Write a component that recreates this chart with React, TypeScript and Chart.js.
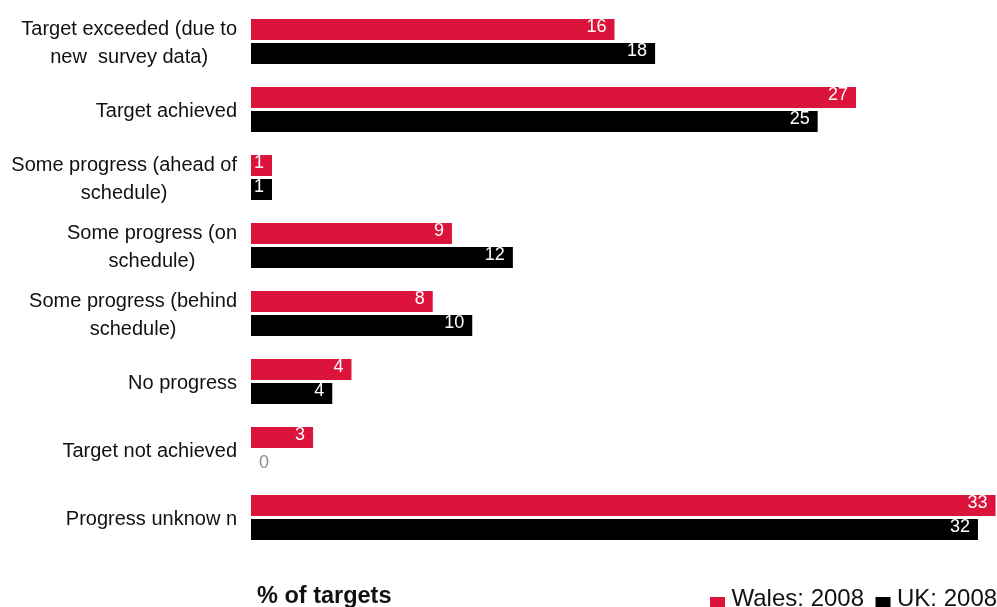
import React, { useEffect, useRef } from "react";
import { Chart, registerables } from "chart.js";

Chart.register(...registerables);

const FONT = "'Liberation Sans', Arial, Helvetica, sans-serif";

const categories: string[][] = [
  ["Target exceeded (due to", "new  survey data)"],
  ["Target achieved"],
  ["Some progress (ahead of", "schedule)"],
  ["Some progress (on", "schedule)"],
  ["Some progress (behind", "schedule)"],
  ["No progress"],
  ["Target not achieved"],
  ["Progress unknow n"],
];

const seriesNames = ["Wales: 2008", "UK: 2008"];
const walesValues = [16.1, 26.8, 0.93, 8.9, 8.05, 4.45, 2.75, 32.98];
const ukValues = [17.9, 25.1, 0.93, 11.6, 9.8, 3.6, 0, 32.2];
const seriesColors = ["#DC143C", "#000000"];
const axisTitle = "% of targets";
const xMin = 0;
const xMax = 33;

const labelsPlugin = {
  id: "customLabels",
  afterDatasetsDraw(chart: any) {
    const ctx = chart.ctx;
    const yScale = chart.scales.y;
    const area = chart.chartArea;
    ctx.save();

    // Category labels (block right-aligned, lines centered within block)
    ctx.font = `20px ${FONT}`;
    ctx.fillStyle = "#111111";
    ctx.textBaseline = "alphabetic";
    ctx.textAlign = "center";
    const blockRight = area.left - 14;
    const lineH = 28;
    categories.forEach((lines, i) => {
      const cy = yScale.getPixelForValue(i);
      const maxW = Math.max(...lines.map((l) => ctx.measureText(l).width));
      const cx = blockRight - maxW / 2;
      lines.forEach((line, k) => {
        const by = cy - (lineH * (lines.length - 1)) / 2 + lineH * k + 7;
        ctx.fillText(line, cx, by);
      });
    });

    // Data labels
    ctx.font = `18px ${FONT}`;
    chart.data.datasets.forEach((ds: any, di: number) => {
      const meta = chart.getDatasetMeta(di);
      meta.data.forEach((bar: any, i: number) => {
        const v = ds.data[i];
        const txt = String(Math.round(v));
        const top = bar.y - bar.height / 2;
        if (v === 0) {
          ctx.fillStyle = "#8c8c8c";
          ctx.textAlign = "left";
          ctx.fillText(txt, bar.base + 8, bar.y + 6.5);
        } else {
          ctx.fillStyle = "#ffffff";
          ctx.textAlign = "right";
          ctx.fillText(txt, bar.x - 8, top + 13.3);
        }
      });
    });

    // Axis title
    ctx.font = `bold 23.5px ${FONT}`;
    ctx.fillStyle = "#111111";
    ctx.textAlign = "left";
    ctx.fillText(axisTitle, area.left + 6, 602.5);

    // Legend
    ctx.font = `24px ${FONT}`;
    let x = 710;
    chart.data.datasets.forEach((ds: any) => {
      ctx.fillStyle = ds.backgroundColor;
      ctx.fillRect(x, 597, 15, 14);
      x += 15 + 6.5;
      ctx.fillStyle = "#111111";
      ctx.textAlign = "left";
      ctx.fillText(ds.label, x, 606);
      x += ctx.measureText(ds.label).width + 11.5;
    });

    ctx.restore();
  },
};

export default function App() {
  const ref = useRef<HTMLCanvasElement | null>(null);

  useEffect(() => {
    if (!ref.current) return;
    const chart = new Chart(ref.current, {
      type: "bar",
      data: {
        labels: categories.map((c) => c.join(" ")),
        datasets: [
          {
            label: seriesNames[0],
            data: walesValues,
            backgroundColor: seriesColors[0],
            categoryPercentage: 0.706,
            barPercentage: 0.875,
          },
          {
            label: seriesNames[1],
            data: ukValues,
            backgroundColor: seriesColors[1],
            categoryPercentage: 0.706,
            barPercentage: 0.875,
          },
        ],
      },
      options: {
        indexAxis: "y",
        responsive: false,
        animation: false,
        devicePixelRatio: 1,
        layout: { padding: { top: 7.5, bottom: 55.5, right: 1, left: 0 } },
        scales: {
          x: { display: false, min: xMin, max: xMax },
          y: {
            display: true,
            grid: { display: false },
            border: { display: false },
            ticks: { display: false },
            afterFit: (s: any) => {
              s.width = 251;
            },
          },
        },
        plugins: {
          legend: { display: false },
          tooltip: { enabled: false },
        },
      },
      plugins: [labelsPlugin],
    } as any);
    return () => chart.destroy();
  }, []);

  return (
    <div style={{ position: "absolute", left: 0, top: 0, width: 997, height: 607, background: "#fff" }}>
      <canvas ref={ref} width={997} height={607} style={{ display: "block" }} />
    </div>
  );
}
